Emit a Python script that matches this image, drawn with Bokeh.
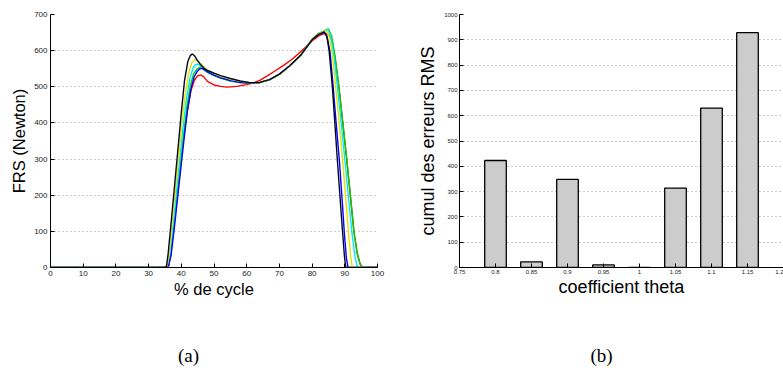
from bokeh.plotting import figure
from bokeh.models import Range1d, FixedTicker
from bokeh.layouts import row, column
from bokeh.core.properties import value
from bokeh.embed import file_html
from bokeh.resources import INLINE

# ---------------- data: panel (a) ----------------
black_x = [0, 35, 35.5, 36, 37, 38, 39, 40, 41, 42, 42.8, 43.4, 44, 45, 46, 47, 48, 50, 52, 55, 58, 61, 64, 67, 70, 73, 76.5, 80, 82, 83.7, 84.5, 85.2, 86.2, 87.7, 89.3, 89.9, 90.3, 100]
black_y = [0, 0, 5, 40, 135, 232, 330, 428, 518, 570, 587, 591, 586, 572, 560, 551, 545, 538, 531, 523, 516, 511, 512, 520, 535, 557, 587, 630, 645, 652, 640, 600, 500, 300, 100, 30, 0, 0]

yellow_x = [0, 35.2, 35.7, 36.3, 37.3, 38.3, 39.3, 40.3, 41.3, 42.3, 43.3, 44.3, 45, 46, 47, 48, 50, 52, 55, 58, 61, 64, 67, 70, 73, 76.5, 80, 82, 84.3, 85.2, 86.2, 87.2, 88.2, 89.3, 90.3, 91.2, 91.8, 92.3, 100]
yellow_y = [0, 0, 5, 38, 130, 225, 318, 408, 485, 540, 568, 575, 572, 563, 554, 547, 537, 529, 521, 515, 511, 512, 519, 534, 556, 586, 630, 646, 655, 640, 590, 500, 410, 300, 190, 90, 30, 0, 0]

cyan_x = [0, 35.3, 35.9, 36.6, 37.6, 38.6, 39.6, 40.6, 41.6, 42.6, 43.6, 44.3, 45, 45.7, 46.5, 47.5, 48.5, 50, 52, 55, 58, 61, 64, 67, 70, 73, 76.5, 80, 82, 84.8, 85.7, 86.7, 87.8, 88.9, 90, 91.1, 92.2, 93.1, 93.9, 100]
cyan_y = [0, 0, 5, 38, 125, 215, 305, 392, 468, 522, 552, 561, 563, 559, 551, 544, 539, 533, 526, 518, 513, 510, 512, 519, 534, 556, 586, 630, 647, 659, 640, 585, 495, 400, 300, 195, 95, 30, 0, 0]

green_x = [0, 35.4, 36, 36.8, 37.8, 38.8, 39.8, 40.8, 41.8, 42.8, 43.8, 44.8, 45.5, 46.2, 47, 48, 50, 52, 55, 58, 61, 64, 67, 70, 73, 76.5, 80, 82, 85, 86, 87, 88.2, 89.4, 90.6, 91.7, 92.8, 93.8, 94.7, 95.4, 100]
green_y = [0, 0, 5, 38, 120, 205, 290, 375, 450, 505, 536, 549, 553, 552, 546, 540, 531, 524, 516, 512, 510, 512, 519, 534, 557, 588, 632, 648, 660, 640, 585, 500, 400, 300, 200, 100, 40, 10, 0, 0]

blue_x = [0, 35.5, 36.1, 36.9, 37.9, 38.9, 39.9, 40.9, 41.9, 42.9, 43.9, 44.9, 45.7, 46.4, 47.2, 48, 50, 52, 55, 58, 61, 64, 67, 70, 73, 76.5, 80, 82, 83.7, 84.6, 85.5, 86.4, 87.3, 88.3, 89.2, 89.9, 90.5, 91, 100]
blue_y = [0, 0, 5, 35, 112, 195, 278, 360, 435, 492, 527, 543, 550, 551, 547, 541, 532, 525, 517, 512, 510, 512, 520, 535, 557, 587, 630, 645, 650, 638, 595, 505, 405, 300, 185, 90, 25, 0, 0]

red_x = [0, 35.6, 36.2, 36.8, 37.6, 38.5, 39.3, 40.3, 41.2, 42, 43, 44, 45, 45.9, 46.8, 48, 50, 52, 54, 57, 60, 62, 64, 66.3, 68.5, 71.4, 74, 76.5, 80, 82, 83.8, 85, 86, 87, 88.2, 89.4, 90.6, 91.7, 92.8, 93.8, 94.7, 95.4, 100]
red_y = [0, 0, 5, 40, 105, 185, 255, 330, 395, 442, 490, 518, 530, 533, 528, 515, 505, 501, 499, 501, 506, 511, 518, 530, 543, 560, 577, 597, 627, 641, 648, 645, 630, 582, 498, 398, 298, 198, 98, 38, 9, 0, 0]

a_x_ticks = [0, 10, 20, 30, 40, 50, 60, 70, 80, 90, 100]
a_y_ticks = [0, 100, 200, 300, 400, 500, 600, 700]

# ---------------- data: panel (b) ----------------
theta = [0.8, 0.85, 0.9, 0.95, 1.0, 1.05, 1.1, 1.15]
rms = [423, 22, 348, 10, 0, 314, 630, 928]

b_x_ticks = [0.75, 0.8, 0.85, 0.9, 0.95, 1.0, 1.05, 1.1, 1.15, 1.2]
b_x_labels = ["0.75", "0.8", "0.85", "0.9", "0.95", "1", "1.05", "1.1", "1.15", "1.2"]
b_y_ticks = [0, 100, 200, 300, 400, 500, 600, 700, 800, 900, 1000]

caption_text = ["(a)", "(b)"]

SANS = "Liberation Sans"
SERIF = "Liberation Serif"


def style(p, tick_size, label_size):
    p.outline_line_color = None
    p.background_fill_color = "white"
    p.border_fill_color = "white"
    p.xgrid.visible = False
    p.ygrid.grid_line_color = "#9a9a9a"
    p.ygrid.grid_line_dash = "1 3"
    p.ygrid.grid_line_width = 1
    for ax in (p.xaxis[0], p.yaxis[0]):
        ax.axis_line_color = "black"
        ax.axis_line_width = 1
        ax.major_tick_in = 4
        ax.major_tick_out = 0
        ax.major_tick_line_color = "black"
        ax.minor_tick_line_color = None
        ax.major_label_text_font = SANS
        ax.major_label_text_font_size = tick_size
        ax.major_label_text_color = "#222222"
        ax.major_label_standoff = 3
        ax.axis_label_text_font = SANS
        ax.axis_label_text_font_size = label_size
        ax.axis_label_text_font_style = "normal"
        ax.axis_label_text_color = "black"
        ax.axis_label_standoff = 3


# ---------------- panel (a) ----------------
pA = figure(width=400, height=300, x_range=Range1d(0, 100), y_range=Range1d(0, 700),
            output_backend="svg", toolbar_location=None,
            min_border_left=50, min_border_right=23, min_border_top=12, min_border_bottom=31)
style(pA, "8px", "16.5px")
pA.xaxis[0].ticker = FixedTicker(ticks=a_x_ticks)
pA.yaxis[0].ticker = FixedTicker(ticks=a_y_ticks)
pA.xaxis[0].axis_label = "% de cycle"
pA.yaxis[0].axis_label = "FRS (Newton)"
pA.xaxis[0].axis_label_standoff = 1

series = [
    (red_x, red_y, "#ff0000"),
    (green_x, green_y, "#00d000"),
    (cyan_x, cyan_y, "#00e8ff"),
    (blue_x, blue_y, "#0000ff"),
    (yellow_x, yellow_y, "#e8e000"),
    (black_x, black_y, "#050520"),
]
for xs, ys, col in series:
    pA.line(xs, ys, line_color=col, line_width=1.4)

# ---------------- panel (b) ----------------
pB = figure(width=383, height=300, x_range=Range1d(0.75, 1.2), y_range=Range1d(0, 1000),
            output_backend="svg", toolbar_location=None,
            min_border_left=59, min_border_right=0, min_border_top=14, min_border_bottom=30)
style(pB, "6px", "18px")
pB.xaxis[0].ticker = FixedTicker(ticks=b_x_ticks)
pB.xaxis[0].major_label_overrides = {t: l for t, l in zip(b_x_ticks, b_x_labels)}
pB.yaxis[0].ticker = FixedTicker(ticks=b_y_ticks)
pB.xaxis[0].axis_label = "coefficient theta"
pB.yaxis[0].axis_label = "cumul des erreurs RMS"
pB.xaxis[0].major_label_standoff = 2
pB.yaxis[0].major_label_standoff = 2
pB.xaxis[0].axis_label_standoff = 0

pB.vbar(x=theta, top=rms, bottom=0, width=0.03, fill_color="#cccccc",
        line_color="black", line_width=1.3)

# ---------------- captions ----------------
pC = figure(width=783, height=71, x_range=Range1d(0, 783), y_range=Range1d(0, 71),
            output_backend="svg", toolbar_location=None,
            min_border_left=0, min_border_right=0, min_border_top=0, min_border_bottom=0)
pC.axis.visible = False
pC.grid.visible = False
pC.outline_line_color = None
pC.text(x=[188, 601], y=[16, 16], text=caption_text, text_align="center",
        text_baseline="middle", text_font=value(SERIF), text_font_size="19px",
        text_color="black")

layout = column(row(pA, pB), pC)
open("out.html", "w").write(file_html(layout, INLINE))
